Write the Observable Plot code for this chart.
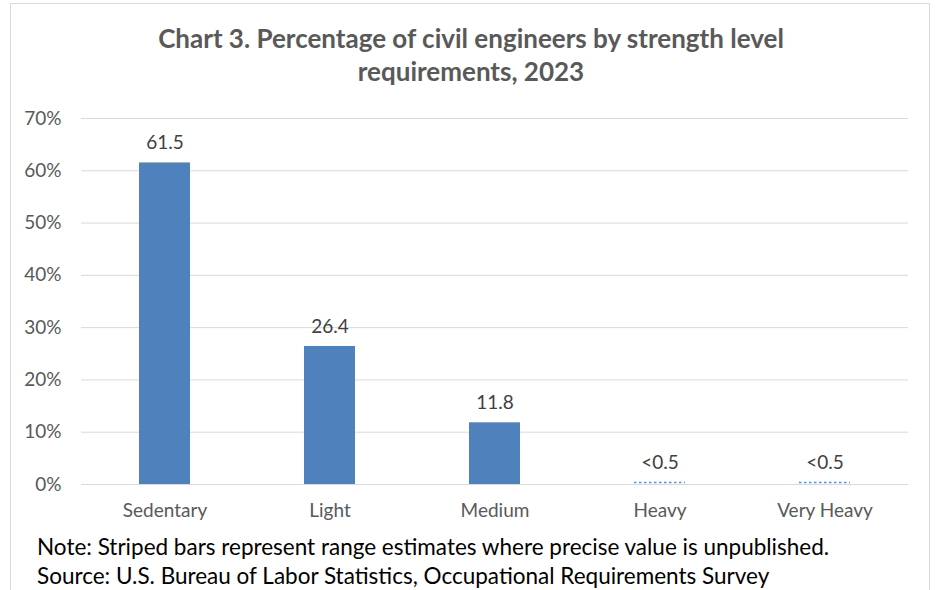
<!DOCTYPE html>
<html><head><meta charset="utf-8">
<script src="https://cdn.jsdelivr.net/npm/d3@7"></script>
<script src="https://cdn.jsdelivr.net/npm/@observablehq/plot@0.6"></script>
<style>
body{margin:0;background:#fff;font-family:Lato,"Open Sans",sans-serif;}
#wrap{position:relative;width:937px;height:590px;overflow:hidden;background:#fff;}
#frame{position:absolute;left:10px;top:3px;width:920px;height:620px;border:1px solid #d9d9d9;box-sizing:border-box;}
#title{position:absolute;left:0;width:942px;top:22px;text-align:center;font-weight:bold;font-size:26px;line-height:33px;color:#595959;}
#chart{position:absolute;left:0;top:100px;}
#notes{position:absolute;left:37px;top:532px;font-size:22.5px;line-height:29px;color:#000;white-space:nowrap;}
</style></head>
<body><div id="wrap"><div id="frame"></div>
<div id="title">Chart 3. Percentage of civil engineers by strength level<br>requirements, 2023</div>
<div id="chart"></div>
<div id="notes">Note: Striped bars represent range estimates where precise value is unpublished.<br>Source: U.S. Bureau of Labor Statistics, Occupational Requirements Survey</div>
</div>
<script>
const categories = ["Sedentary","Light","Medium","Heavy","Very Heavy"];
const values = [61.5, 26.4, 11.8, 0.4, 0.4];
const labels = ["61.5","26.4","11.8","<0.5","<0.5"];
const striped = [false,false,false,true,true];
const yTicks = [0,10,20,30,40,50,60,70];

const data = categories.map((c,i)=>({cat:c, v:values[i], label:labels[i], striped:striped[i]}));
const solid = data.filter(d=>!d.striped);
const range = data.filter(d=>d.striped);

const plot = Plot.plot({
  width: 937, height: 430,
  marginLeft: 81, marginRight: 29, marginTop: 18, marginBottom: 46,
  style: {fontFamily: "Lato, 'Open Sans', sans-serif", fontSize: "19px", color: "#595959", background: "transparent"},
  x: {domain: categories, paddingInner: 0.69, paddingOuter: 0.345, label: null, tickSize: 0, tickPadding: 19},
  y: {domain: [0,70], ticks: yTicks, label: null, tickSize: 0, tickPadding: 20, tickFormat: d => d + "%"},
  marks: [
    Plot.gridY(yTicks, {stroke: "#d9d9d9", strokeOpacity: 1, strokeWidth: 1}),
    Plot.barY(solid, {x: "cat", y: "v", fill: "#4f81bd"}),
    Plot.tickY(range, {x: "cat", y: "v", stroke: "#5b8fd0", strokeWidth: 1.5, strokeDasharray: "2.5,2.5"}),
    Plot.text(data, {x: "cat", y: "v", text: "label", dy: -20, fill: "#404040", fontSize: 19})
  ]
});
document.getElementById("chart").appendChild(plot);
</script></body></html>
